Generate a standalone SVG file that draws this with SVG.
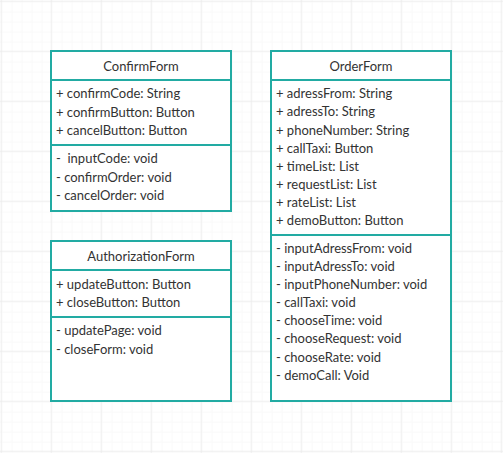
<svg xmlns="http://www.w3.org/2000/svg" width="503" height="453" viewBox="0 0 503 453">
<defs>
<pattern id="minor" width="10" height="10" patternUnits="userSpaceOnUse" x="0.7" y="0.7">
<path d="M10 0H0V10" fill="none" stroke="#f4f4f4" stroke-width="1"/>
</pattern>
<pattern id="major" width="50" height="50" patternUnits="userSpaceOnUse" x="0.7" y="0.7">
<rect width="50" height="50" fill="url(#minor)"/>
<path d="M50 0H0V50" fill="none" stroke="#ebebeb" stroke-width="1.5"/>
</pattern>
</defs>
<style>
.box{fill:#ffffff;stroke:#22aba3;stroke-width:2}
.div{stroke:#22aba3;stroke-width:2}
text{font-family:Lato,"Liberation Sans",sans-serif;font-size:13px;fill:#333333;white-space:pre}
.h{text-anchor:middle}
</style>
<rect width="503" height="453" fill="#ffffff"/>
<rect width="503" height="453" fill="url(#major)"/>
<g id="ConfirmForm">
<rect class="box" x="51" y="51" width="180" height="160"/>
<line class="div" x1="51" y1="80" x2="231" y2="80"/>
<line class="div" x1="51" y1="145" x2="231" y2="145"/>
<text class="h" x="141" y="70.5">ConfirmForm</text>
<text x="56" y="98">+ confirmCode: String</text>
<text x="56" y="116.5">+ confirmButton: Button</text>
<text x="56" y="135">+ cancelButton: Button</text>
<text x="56" y="163">-  inputCode: void</text>
<text x="56" y="181.5">- confirmOrder: void</text>
<text x="56" y="200">- cancelOrder: void</text>
</g>
<g id="AuthorizationForm">
<rect class="box" x="51" y="241" width="180" height="160"/>
<line class="div" x1="51" y1="270" x2="231" y2="270"/>
<line class="div" x1="51" y1="317" x2="231" y2="317"/>
<text class="h" x="141" y="260.5">AuthorizationForm</text>
<text x="56" y="288.5">+ updateButton: Button</text>
<text x="56" y="307">+ closeButton: Button</text>
<text x="56" y="335">- updatePage: void</text>
<text x="56" y="353.5">- closeForm: void</text>
</g>
<g id="OrderForm">
<rect class="box" x="271" y="51" width="180" height="350"/>
<line class="div" x1="271" y1="80" x2="451" y2="80"/>
<line class="div" x1="271" y1="235" x2="451" y2="235"/>
<text class="h" x="361" y="70.5">OrderForm</text>
<text x="276" y="98">+ adressFrom: String</text>
<text x="276" y="116.3">+ adressTo: String</text>
<text x="276" y="134.5">+ phoneNumber: String</text>
<text x="276" y="152.5">+ callTaxi: Button</text>
<text x="276" y="170.7">+ timeList: List</text>
<text x="276" y="188.5">+ requestList: List</text>
<text x="276" y="206.5">+ rateList: List</text>
<text x="276" y="225">+ demoButton: Button</text>
<text x="276" y="253">- inputAdressFrom: void</text>
<text x="276" y="271.3">- inputAdressTo: void</text>
<text x="276" y="289.3">- inputPhoneNumber: void</text>
<text x="276" y="307">- callTaxi: void</text>
<text x="276" y="325">- chooseTime: void</text>
<text x="276" y="343.3">- chooseRequest: void</text>
<text x="276" y="361.5">- chooseRate: void</text>
<text x="276" y="380">- demoCall: Void</text>
</g>
<g id="connectors"/>
</svg>
